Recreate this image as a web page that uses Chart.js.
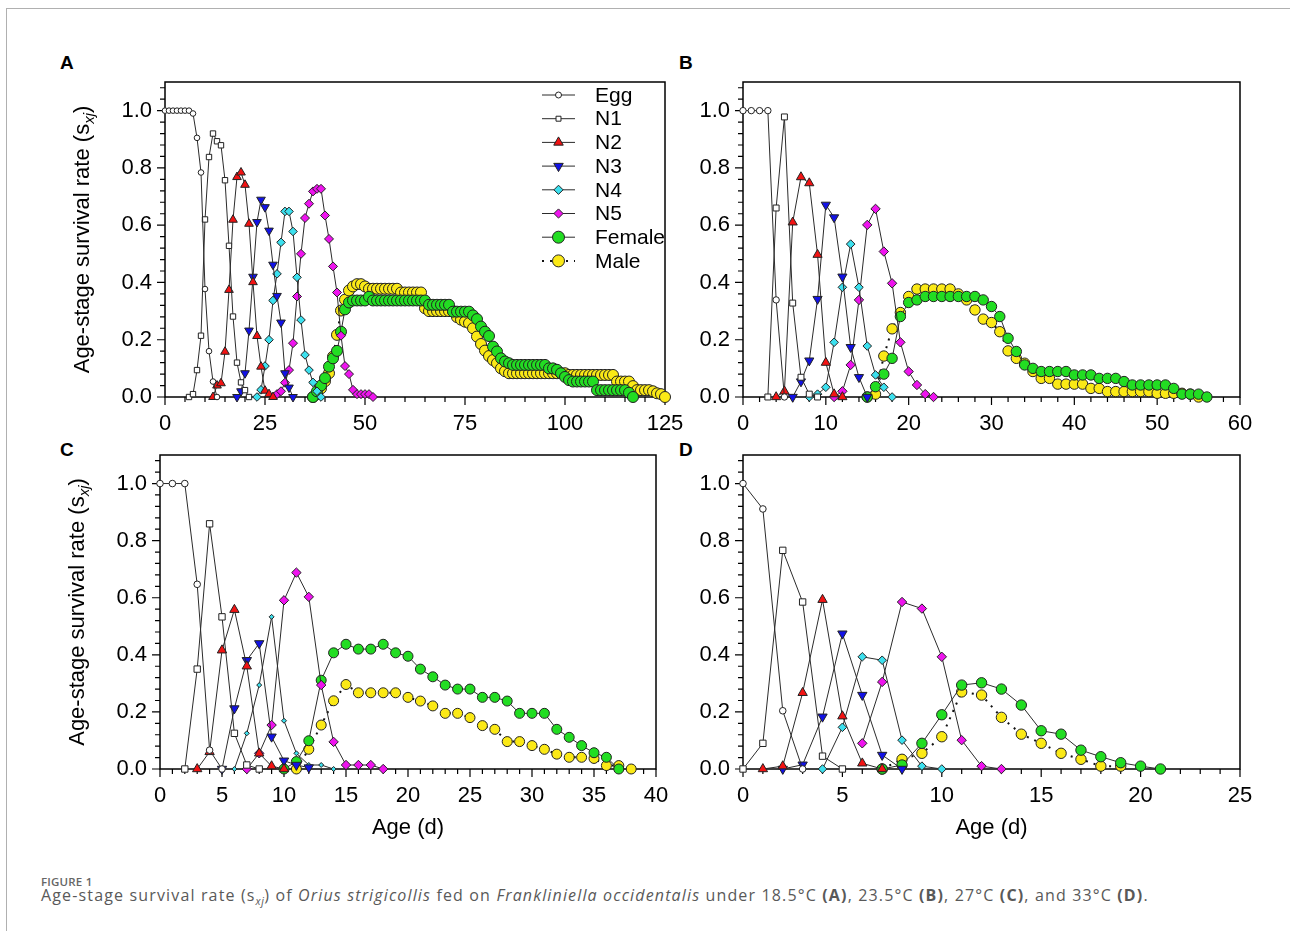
<!DOCTYPE html>
<html>
<head>
<meta charset="utf-8">
<title>Age-stage survival rate of Orius strigicollis</title>
<script src="https://cdn.jsdelivr.net/npm/chart.js@4.4.1/dist/chart.umd.min.js"></script>
<style>
  body { margin: 0; background: #fff; }
  #page { position: relative; width: 1290px; height: 931px; overflow: hidden; font-family: "Liberation Sans", Arial, sans-serif; }
  .box { position: absolute; left: 6px; top: 8px; width: 1300px; height: 940px; border-left: 1px solid #b0b0b0; border-top: 1px solid #b0b0b0; }
  .panel { position: absolute; }
  .tag { position: absolute; font-weight: bold; font-size: 19px; line-height: 19px; color: #000; }
  #figno { position: absolute; left: 41px; top: 876px; font-family: "Open Sans", sans-serif; font-size: 11.5px; line-height: 12px; font-weight: 600; color: #666; letter-spacing: 0.2px; }
  #cap { position: absolute; left: 41px; top: 887px; font-family: "Open Sans", sans-serif; font-size: 16px; line-height: 16px; color: #595959; white-space: nowrap; letter-spacing: 1.15px; }
  #cap sub { font-size: 10.5px; line-height: 0; letter-spacing: 0.5px; }
</style>
</head>
<body>
<div id="page">
  <div class="box"></div>
  <div class="tag" style="left:60px; top:53px">A</div>
  <div class="tag" style="left:679px; top:53px">B</div>
  <div class="tag" style="left:60px; top:440px">C</div>
  <div class="tag" style="left:679px; top:440px">D</div>
  <canvas id="cA" class="panel"></canvas>
  <canvas id="cB" class="panel"></canvas>
  <canvas id="cC" class="panel"></canvas>
  <canvas id="cD" class="panel"></canvas>
  <div id="figno">FIGURE 1</div>
  <div id="cap">Age-stage survival rate (s<sub><i>xj</i></sub>) of <i>Orius strigicollis</i> fed on <i>Frankliniella occidentalis</i> under 18.5°C <b>(A)</b>, 23.5°C <b>(B)</b>, 27°C <b>(C)</b>, and 33°C <b>(D)</b>.</div>
</div>
<script>
// stage names (legend order)
const stages = ['Egg', 'N1', 'N2', 'N3', 'N4', 'N5', 'Female', 'Male'];

// --- A: 18.5 C --- first age (d) of each series, then survival per day
const startA = [0, 6, 12, 18, 23, 28, 37, 37];
const aEgg = [1, 1, 1, 1, 1, 1, 1, 0.99, 0.905, 0.784, 0.377, 0.16, 0.054, 0];
const aN1 = [0, 0.01, 0.094, 0.214, 0.62, 0.838, 0.92, 0.893, 0.879, 0.757, 0.528, 0.281, 0.12, 0.051, 0.024, 0];
const aN2 = [0, 0.04, 0.048, 0.158, 0.374, 0.619, 0.768, 0.784, 0.741, 0.605, 0.401, 0.213, 0.106, 0.022, 0.01, 0];
const aN3 = [0, 0.02, 0.083, 0.232, 0.42, 0.611, 0.689, 0.663, 0.581, 0.462, 0.353, 0.26, 0.083, 0.033, 0];
const aN4 = [0, 0.025, 0.108, 0.2, 0.337, 0.43, 0.54, 0.648, 0.648, 0.578, 0.418, 0.269, 0.147, 0.094, 0.051, 0.02, 0];
const aN5 = [0.01, 0.02, 0.05, 0.094, 0.188, 0.351, 0.5, 0.625, 0.675, 0.718, 0.727, 0.727, 0.634, 0.552, 0.456, 0.365, 0.214, 0.108, 0.08, 0.025, 0.01, 0.01, 0.01, 0.01, 0];
const aFemale = [0, 0.02, 0.04, 0.066, 0.106, 0.135, 0.161, 0.228, 0.306, 0.33,
  0.337, 0.337, 0.337, 0.337, 0.35,
  0.337, 0.337, 0.337, 0.337, 0.337, 0.337, 0.337, 0.337, 0.337, 0.337, 0.337, 0.337, 0.337, 0.337,
  0.322, 0.322, 0.322, 0.322, 0.322, 0.322,
  0.298, 0.298, 0.298, 0.298, 0.298, 0.285,
  0.272, 0.246, 0.228, 0.213, 0.176, 0.159, 0.135, 0.124, 0.118,
  0.112, 0.112, 0.112, 0.112, 0.112, 0.112, 0.112, 0.112, 0.112,
  0.1, 0.1, 0.095, 0.083, 0.07, 0.059,
  0.054, 0.054, 0.054, 0.054, 0.054, 0.054,
  0.024, 0.024, 0.024, 0.024, 0.024, 0.024, 0.024, 0.024, 0.015, 0];
const aMale = [0, 0.01, 0.03, 0.055, 0.083, 0.141, 0.217, 0.302, 0.34, 0.372, 0.386, 0.394, 0.394, 0.386,
  0.378, 0.378, 0.378, 0.378, 0.378, 0.378, 0.378, 0.378,
  0.365, 0.365, 0.365, 0.365, 0.365, 0.365, 0.31,
  0.3, 0.3, 0.3, 0.3, 0.3, 0.3, 0.3,
  0.279, 0.27, 0.263, 0.258, 0.24, 0.211, 0.185, 0.162, 0.143, 0.129, 0.118, 0.1, 0.09,
  0.083, 0.083, 0.083, 0.083, 0.083, 0.083, 0.083, 0.083, 0.083, 0.083, 0.083, 0.083, 0.083, 0.083, 0.083,
  0.077, 0.077, 0.077, 0.077, 0.077, 0.077, 0.077, 0.077, 0.077, 0.077, 0.077, 0.077,
  0.054, 0.054, 0.054, 0.054, 0.038, 0.024, 0.024, 0.024, 0.024, 0.02, 0.013, 0.01, 0];

// --- B: 23.5 C ---
const startB = [0, 3, 4, 6, 8, 11, 15, 15];
const bEgg = [1, 1, 1, 1, 0.339, 0];
const bN1 = [0, 0.66, 0.978, 0.328, 0.069, 0.01, 0];
const bN2 = [0, 0.02, 0.61, 0.768, 0.747, 0.497, 0.12, 0.01, 0];
const bN3 = [0, 0.054, 0.127, 0.342, 0.671, 0.627, 0.42, 0.174, 0.069, 0];
const bN4 = [0, 0.01, 0.034, 0.191, 0.383, 0.534, 0.383, 0.178, 0.077, 0.034, 0];
const bN5 = [0, 0.02, 0.112, 0.339, 0.601, 0.657, 0.508, 0.397, 0.191, 0.089, 0.042, 0.01, 0];
const bFemale = [0, 0.036, 0.08, 0.135, 0.281, 0.33, 0.339, 0.351, 0.351, 0.351, 0.351, 0.351, 0.351, 0.351,
  0.339, 0.316, 0.281, 0.205, 0.159, 0.112, 0.1, 0.089, 0.089, 0.089, 0.089, 0.077, 0.077, 0.077,
  0.065, 0.065, 0.065, 0.054, 0.042, 0.042, 0.042, 0.042, 0.042, 0.03, 0.01, 0.01, 0.01, 0];
const bMale = [0, 0.01, 0.143, 0.238, 0.295, 0.351, 0.377, 0.377, 0.377, 0.377, 0.377,
  0.36, 0.339, 0.304, 0.272, 0.26, 0.228, 0.161, 0.135, 0.118, 0.089, 0.065, 0.065,
  0.045, 0.045, 0.045, 0.045, 0.03, 0.03, 0.019, 0.019, 0.019, 0.019, 0.019, 0.019,
  0.013, 0.013, 0.013, 0.013, 0.01, 0];

// --- C: 27 C ---
const startC = [0, 2, 3, 5, 6, 7, 10, 11];
const cEgg = [1, 1, 1, 0.647, 0.066, 0];
const cN1 = [0, 0.35, 0.859, 0.533, 0.125, 0.014, 0];
const cN2 = [0, 0.06, 0.416, 0.558, 0.36, 0.055, 0.01, 0];
const cN3 = [0, 0.212, 0.381, 0.44, 0.113, 0.029, 0.014, 0.005];
const cN4 = [0, 0.125, 0.294, 0.533, 0.169, 0.055, 0.014, 0.014, 0];
const cN5 = [0, 0.055, 0.154, 0.591, 0.688, 0.603, 0.294, 0.095, 0.014, 0.014, 0.014, 0];
const cFemale = [0, 0.026, 0.099, 0.311, 0.407, 0.437, 0.42, 0.42, 0.437, 0.407, 0.395, 0.35, 0.323, 0.294,
  0.28, 0.28, 0.251, 0.251, 0.238, 0.195, 0.195, 0.195, 0.139, 0.111, 0.082, 0.057, 0.041, 0];
const cMale = [0, 0.069, 0.154, 0.239, 0.296, 0.267, 0.267, 0.267, 0.267, 0.251, 0.238, 0.221, 0.195, 0.195,
  0.18, 0.152, 0.139, 0.096, 0.096, 0.082, 0.069, 0.052, 0.041, 0.041, 0.037, 0.012, 0.012, 0];

// --- D: 33 C ---
const startD = [0, 0, 1, 2, 4, 6, 7, 7];
const dEgg = [1, 0.911, 0.204, 0];
const dN1 = [0, 0.09, 0.766, 0.585, 0.045, 0];
const dN2 = [0, 0.01, 0.267, 0.593, 0.185, 0.02, 0];
const dN3 = [0, 0.015, 0.183, 0.474, 0.259, 0.049, 0];
const dN4 = [0, 0.146, 0.393, 0.381, 0.101, 0.01, 0];
const dN5 = [0.09, 0.305, 0.585, 0.562, 0.393, 0.101, 0.01, 0];
const dFemale = [0, 0.014, 0.09, 0.19, 0.294, 0.302, 0.28, 0.224, 0.134, 0.122, 0.066, 0.043, 0.022, 0.01, 0];
const dMale = [0, 0.034, 0.055, 0.113, 0.27, 0.259, 0.181, 0.122, 0.09, 0.055, 0.034, 0.01, 0.01];

// x axes: max age and labelled step
const xMaxes = [125, 60, 40, 25];
const xSteps = [25, 10, 5, 5];
const yTicks = [0, 0.2, 0.4, 0.6, 0.8, 1.0];

// marker look per stage
const stageStyle = [
  { shape: 'circle', fill: '#ffffff' },
  { shape: 'rect', fill: '#ffffff' },
  { shape: 'triangle', fill: '#f21313' },
  { shape: 'triangle', fill: '#1212e6', rot: 180 },
  { shape: 'rectRot', fill: '#3ce0ee' },
  { shape: 'rectRot', fill: '#ee14ee' },
  { shape: 'circle', fill: '#22dd22' },
  { shape: 'circle', fill: '#fbe916', dotted: true }
];

const FONT = '"Liberation Sans", Arial, sans-serif';

// tick marks + closed frame around the plot area
const frameTicks = {
  id: 'frameTicks',
  beforeDatasetsDraw(chart, args, opts) {
    const { ctx, chartArea: a, scales: { x, y } } = chart;
    ctx.save();
    ctx.strokeStyle = '#000';
    ctx.lineWidth = 1.2;
    ctx.beginPath();
    const xMinor = opts.xStep / 5;
    for (let i = 0; i * xMinor <= x.max + 1e-9; i++) {
      const px = x.getPixelForValue(i * xMinor);
      ctx.moveTo(px, a.bottom);
      ctx.lineTo(px, a.bottom + (i % 5 === 0 ? 8 : 5));
    }
    for (let i = 0; i * 0.04 <= y.max + 1e-9; i++) {
      const py = y.getPixelForValue(i * 0.04);
      ctx.moveTo(a.left, py);
      ctx.lineTo(a.left - (i % 5 === 0 ? 8 : 5), py);
    }
    ctx.stroke();
    ctx.lineWidth = 1.5;
    ctx.strokeRect(a.left, a.top, a.right - a.left, a.bottom - a.top);
    ctx.restore();
  }
};

// rotated y title with italic subscript
const yTitle = {
  id: 'yTitle',
  afterDraw(chart, args, opts) {
    if (!opts.show) return;
    const { ctx, chartArea: a } = chart;
    ctx.save();
    ctx.translate(a.left - opts.offset, (a.top + a.bottom) / 2);
    ctx.rotate(-Math.PI / 2);
    ctx.fillStyle = '#000';
    const p1 = 'Age-stage survival rate (s', p2 = 'xj', p3 = ')';
    ctx.font = '22px ' + FONT;
    const w1 = ctx.measureText(p1).width, w3 = ctx.measureText(p3).width;
    ctx.font = 'italic 15px ' + FONT;
    const w2 = ctx.measureText(p2).width;
    let x = -(w1 + w2 + w3) / 2;
    ctx.font = '22px ' + FONT; ctx.fillText(p1, x, 8); x += w1;
    ctx.font = 'italic 15px ' + FONT; ctx.fillText(p2, x, 13); x += w2;
    ctx.font = '22px ' + FONT; ctx.fillText(p3, x, 8);
    ctx.restore();
  }
};

// legend inside panel A
const stageLegend = {
  id: 'stageLegend',
  afterDraw(chart, args, opts) {
    if (!opts.show) return;
    const { ctx, chartArea: a } = chart;
    ctx.save();
    chart.data.datasets.forEach((ds, i) => {
      const y = a.top + opts.top + i * opts.row;
      const x0 = a.left + opts.left, x1 = x0 + opts.lineLen;
      ctx.strokeStyle = ds.borderColor;
      ctx.lineWidth = ds.borderWidth;
      ctx.setLineDash(ds.borderDash);
      ctx.beginPath(); ctx.moveTo(x0, y); ctx.lineTo(x1, y); ctx.stroke();
      ctx.setLineDash([]);
      ctx.fillStyle = ds.pointBackgroundColor;
      ctx.strokeStyle = ds.pointBorderColor;
      ctx.lineWidth = 1;
      Chart.helpers.drawPoint(ctx, { pointStyle: ds.pointStyle, rotation: ds.pointRotation, radius: opts.radii[i], borderWidth: 1 }, (x0 + x1) / 2, y);
      ctx.fillStyle = '#000';
      ctx.font = '21px ' + FONT;
      ctx.textBaseline = 'middle';
      ctx.fillText(ds.label, x0 + opts.textGap, y + 1);
    });
    ctx.restore();
  }
};

function buildDatasets(starts, values, radii) {
  return values.map((vals, k) => {
    const st = stageStyle[k];
    return {
      label: stages[k],
      data: vals.map((v, i) => ({ x: starts[k] + i, y: v })),
      borderColor: st.dotted ? '#111' : '#2b2b2b',
      borderWidth: st.dotted ? 2 : 1,
      borderDash: st.dotted ? [2, 6] : [],
      pointStyle: st.shape,
      pointRotation: st.rot || 0,
      pointRadius: radii[k],
      pointBackgroundColor: st.fill,
      pointBorderColor: '#222',
      pointBorderWidth: 1,
      tension: 0,
      fill: false,
      clip: false
    };
  });
}

// scales must not push the plot area in: its box is fixed below
function noScalePadding(s) {
  s.paddingTop = 0; s.paddingBottom = 0; s.paddingLeft = 0; s.paddingRight = 0;
}

const panels = [
  { id: 'cA', plot: [165, 82, 665, 397], yw: 110, xh: 45, n: 0, yTitle: true, xTitle: false, legend: true,
    starts: startA, values: [aEgg, aN1, aN2, aN3, aN4, aN5, aFemale, aMale], radii: [2.8, 3.8, 5, 5, 4.3, 4.5, 5.5, 5.5] },
  { id: 'cB', plot: [743, 82, 1240, 397], yw: 60, xh: 45, n: 1, yTitle: false, xTitle: false, legend: false,
    starts: startB, values: [bEgg, bN1, bN2, bN3, bN4, bN5, bFemale, bMale], radii: [3.2, 4.2, 5.3, 5.3, 4.3, 4.7, 5.2, 5.2] },
  { id: 'cC', plot: [160, 455, 656, 769], yw: 110, xh: 80, n: 2, yTitle: true, xTitle: true, legend: false,
    starts: startC, values: [cEgg, cN1, cN2, cN3, cN4, cN5, cFemale, cMale], radii: [3.3, 4.5, 5.4, 5.4, 2.5, 4.7, 5, 5] },
  { id: 'cD', plot: [743, 455, 1240, 769], yw: 60, xh: 80, n: 3, yTitle: false, xTitle: true, legend: false,
    starts: startD, values: [dEgg, dN1, dN2, dN3, dN4, dN5, dFemale, dMale], radii: [3.3, 4.5, 5.4, 5.4, 4.3, 4.7, 5.2, 5.2] }
];

const PAD_TOP = 6, PAD_RIGHT = 25;

panels.forEach(p => {
  const [l, t, r, b] = p.plot;
  const canvas = document.getElementById(p.id);
  const left = l - p.yw, top = t - PAD_TOP;
  canvas.width = r - left + PAD_RIGHT;
  canvas.height = b - top + p.xh;
  canvas.style.left = left + 'px';
  canvas.style.top = top + 'px';

  const chart = new Chart(canvas, {
    type: 'line',
    data: { datasets: buildDatasets(p.starts, p.values, p.radii) },
    options: {
      responsive: false,
      animation: false,
      layout: { autoPadding: false, padding: { top: PAD_TOP, right: PAD_RIGHT, left: 0, bottom: 0 } },
      scales: {
        x: {
          type: 'linear',
          min: 0,
          max: xMaxes[p.n],
          grid: { display: false, drawTicks: false },
          border: { display: false },
          ticks: { stepSize: xSteps[p.n], color: '#000', font: { family: FONT, size: 22 }, padding: 14, maxRotation: 0 },
          title: { display: p.xTitle, text: 'Age (d)', color: '#000', font: { family: FONT, size: 22 }, padding: { top: 0, bottom: 8 } },
          afterFit: s => { s.height = p.xh; noScalePadding(s); }
        },
        y: {
          min: 0,
          max: 1.1,
          grid: { display: false, drawTicks: false },
          border: { display: false },
          ticks: { stepSize: 0.2, color: '#000', font: { family: FONT, size: 22 }, padding: 13, callback: v => v.toFixed(1) },
          afterBuildTicks: s => { s.ticks = s.ticks.filter(tk => yTicks.some(v => Math.abs(v - tk.value) < 1e-6)); },
          afterFit: s => { s.width = p.yw; noScalePadding(s); }
        }
      },
      plugins: {
        legend: { display: false },
        tooltip: { enabled: false },
        frameTicks: { xStep: xSteps[p.n] },
        yTitle: { show: p.yTitle, offset: 84 },
        stageLegend: { show: p.legend, left: 377, lineLen: 33, textGap: 53, top: 13, row: 23.7, radii: [3, 3.5, 5.5, 5.5, 4.6, 4.6, 6, 6] }
      }
    },
    plugins: [frameTicks, yTitle, stageLegend]
  });
  console.log(p.id, JSON.stringify(chart.chartArea));
});
</script>
</body>
</html>
